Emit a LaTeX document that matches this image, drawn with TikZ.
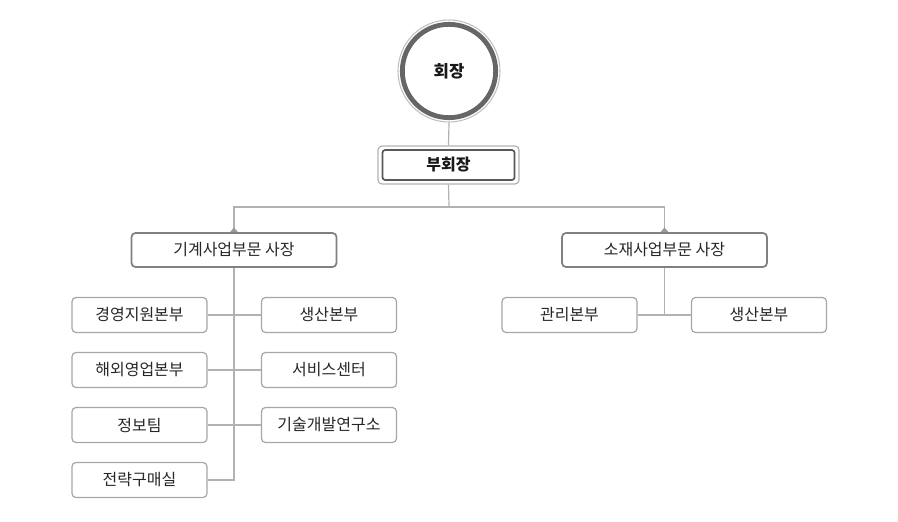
\documentclass[tikz,border=0pt]{standalone}
\usepackage{fontspec}
\setmainfont{Noto Sans CJK KR}
\begin{document}
\begin{tikzpicture}[x=0.75pt,y=-0.75pt,
  line/.style={draw=black!30,line width=0.9pt},
  unit/.style={draw=black!35,line width=0.9pt,rounded corners=3pt,minimum width=101.25pt,minimum height=26.25pt,inner sep=0pt,text=black!85,font=\fontsize{12}{14}\selectfont},
  division/.style={draw=black!50,line width=1.3pt,rounded corners=3pt,minimum width=153.75pt,minimum height=25.5pt,inner sep=0pt,text=black!85,font=\fontsize{12}{14}\selectfont},
  tri/.style={fill=black!40}]
\useasboundingbox (0,0) rectangle (898,521);
% chairman
\node[circle,draw=black!25,line width=0.8pt,minimum size=76.5pt,inner sep=0pt] (ceo) at (449,71) {};
\node[circle,draw=black!60,line width=3.6pt,minimum size=70pt,inner sep=0pt,font=\bfseries\fontsize{12.5}{14}\selectfont,text=black!90] (ceoin) at (449,71) {회장};
% vice chairman
\node[draw=black!30,line width=0.9pt,rounded corners=3pt,minimum width=105.75pt,minimum height=28.5pt,inner sep=0pt] (vc) at (448.5,165) {};
\node[draw=black!65,line width=1.3pt,rounded corners=2pt,minimum width=99pt,minimum height=22.5pt,inner sep=0pt,font=\bfseries\fontsize{12}{14}\selectfont,text=black!90] (vcin) at (448.5,165) {부회장};
% divisions
\node[division] (d1) at (234,250) {기계사업부문 사장};
\node[division] (d2) at (664.5,250) {소재사업부문 사장};
% units left
\node[unit] (a1) at (139.5,315) {경영지원본부};
\node[unit] (a2) at (139.5,370) {해외영업본부};
\node[unit] (a3) at (139.5,425) {정보팀};
\node[unit] (a4) at (139.5,480) {전략구매실};
\node[unit] (b1) at (329,315) {생산본부};
\node[unit] (b2) at (329,370) {서비스센터};
\node[unit] (b3) at (329,425) {기술개발연구소};
% units right
\node[unit] (c1) at (569.5,315) {관리본부};
\node[unit] (c2) at (759,315) {생산본부};
% connectors
\coordinate (split) at (449,207);
\draw[line] (ceo.south) -- (vc.north);
\draw[line] (vc.south) -- (split);
\draw[line] (d1.north) |- (split) -| (d2.north);
\fill[tri] ([xshift=-3pt]d1.north) -- ([xshift=3pt]d1.north) -- ([yshift=3.5pt]d1.north) -- cycle;
\fill[tri] ([xshift=-3pt]d2.north) -- ([xshift=3pt]d2.north) -- ([yshift=3.5pt]d2.north) -- cycle;
\draw[line] (d1.south) |- (a4.east);
\draw[line] (a1.east) -- (b1.west);
\draw[line] (a2.east) -- (b2.west);
\draw[line] (a3.east) -- (b3.west);
\draw[line] (d2.south) -- (d2.south |- c1.east);
\draw[line] (c1.east) -- (c2.west);
\end{tikzpicture}
\end{document}
